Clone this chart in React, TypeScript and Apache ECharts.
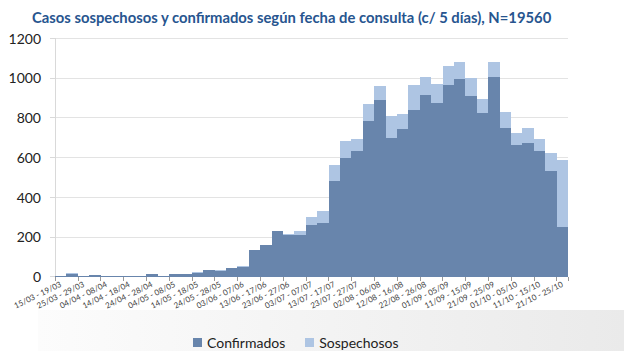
import React, { useEffect, useRef } from "react";
import * as echarts from "echarts";

const categories = [
  "15/03 - 19/03", "20/03 - 24/03", "25/03 - 29/03", "30/03 - 03/04", "04/04 - 08/04",
  "09/04 - 13/04", "14/04 - 18/04", "19/04 - 23/04", "24/04 - 28/04", "29/04 - 03/05",
  "04/05 - 08/05", "09/05 - 13/05", "14/05 - 18/05", "19/05 - 23/05", "24/05 - 28/05",
  "29/05 - 02/06", "03/06 - 07/06", "08/06 - 12/06", "13/06 - 17/06", "18/06 - 22/06",
  "23/06 - 27/06", "28/06 - 02/07", "03/07 - 07/07", "08/07 - 12/07", "13/07 - 17/07",
  "18/07 - 22/07", "23/07 - 27/07", "28/07 - 01/08", "02/08 - 06/08", "07/08 - 11/08",
  "12/08 - 16/08", "17/08 - 21/08", "22/08 - 26/08", "27/08 - 31/08", "01/09 - 05/09",
  "06/09 - 10/09", "11/09 - 15/09", "16/09 - 20/09", "21/09 - 25/09", "26/09 - 30/09",
  "01/10 - 05/10", "06/10 - 10/10", "11/10 - 15/10", "16/10 - 20/10", "21/10 - 25/10",
];

const confirmados = [
  2, 15, 4, 7, 2, 2, 3, 1, 12, 5,
  14, 13, 20, 32, 30, 44, 50, 134, 156, 227,
  210, 210, 257, 269, 478, 598, 633, 783, 888, 697,
  742, 837, 915, 875, 965, 993, 907, 825, 1003, 748,
  660, 670, 630, 533, 248,
];

const sospechosos = [
  0, 1, 1, 3, 0, 0, 1, 0, 1, 0,
  1, 1, 1, 2, 2, 1, 2, 0, 0, 0,
  2, 18, 42, 59, 84, 85, 57, 84, 69, 111,
  75, 125, 87, 92, 92, 87, 90, 67, 75, 80,
  60, 75, 60, 90, 337,
];

const yTicks = { min: 0, max: 1200, interval: 200 };

const TITLE = "Casos sospechosos y confirmados según fecha de consulta (c/ 5 días), N=19560";

const DARK = "#6885ac";
const LIGHT = "#aec5e3";

export default function App() {
  const ref = useRef<HTMLDivElement>(null);
  useEffect(() => {
    if (!ref.current) return;
    const chart = echarts.init(ref.current, undefined, { renderer: "svg" });
    chart.setOption({
      animation: false,
      backgroundColor: "#ffffff",
      graphic: [
        {
          type: "rect",
          left: 38,
          top: 310,
          shape: { width: 586, height: 41 },
          z: -10,
          style: {
            fill: new echarts.graphic.LinearGradient(0, 0, 1, 0, [
              { offset: 0, color: "#fcfcfc" },
              { offset: 1, color: "#eaeaea" },
            ]),
          },
        },
      ],
      title: {
        text: TITLE,
        left: 27,
        top: 4,
        textStyle: {
          fontFamily: "Lato",
          fontWeight: "bold",
          fontSize: 14.8,
          color: "#27558f",
        },
      },
      legend: {
        left: 188,
        top: 330,
        icon: "rect",
        itemWidth: 9,
        itemHeight: 9,
        itemGap: 20,
        textStyle: { fontFamily: "Lato", fontSize: 14, color: "#222222" },
        data: ["Confirmados", "Sospechosos"],
      },
      grid: { left: 55, right: 56, top: 38, bottom: 74.5 },
      xAxis: {
        type: "category",
        data: categories,
        axisLine: { lineStyle: { color: "#bfbfbf" } },
        axisTick: { show: true, length: 4, lineStyle: { color: "#999999" } },
        axisLabel: {
          interval: 1,
          rotate: 26,
          fontSize: 8,
          fontFamily: "Lato",
          color: "#404040",
          margin: 7,
        },
      },
      yAxis: {
        type: "value",
        min: yTicks.min,
        max: yTicks.max,
        interval: yTicks.interval,
        axisLine: { show: true, lineStyle: { color: "#d9d9d9" } },
        axisTick: { show: true, length: 5, lineStyle: { color: "#d9d9d9" } },
        splitLine: { lineStyle: { color: "#e3e3e3" } },
        axisLabel: {
          fontFamily: "Lato",
          fontSize: 14,
          color: "#222222",
          margin: 14,
          formatter: (v: number) => String(v),
        },
      },
      series: [
        {
          name: "Confirmados",
          type: "bar",
          stack: "t",
          data: confirmados,
          barCategoryGap: "0%",
          itemStyle: { color: DARK },
        },
        {
          name: "Sospechosos",
          type: "bar",
          stack: "t",
          data: sospechosos,
          barCategoryGap: "0%",
          itemStyle: { color: LIGHT },
        },
      ],
    });
    return () => chart.dispose();
  }, []);
  return (
    <>
      <style>{".bars-root svg path { shape-rendering: crispEdges; }"}</style>
      <div
        ref={ref}
        className="bars-root"
        style={{ width: 624, height: 351, position: "absolute", left: 0, top: 0 }}
      />
    </>
  );
}
